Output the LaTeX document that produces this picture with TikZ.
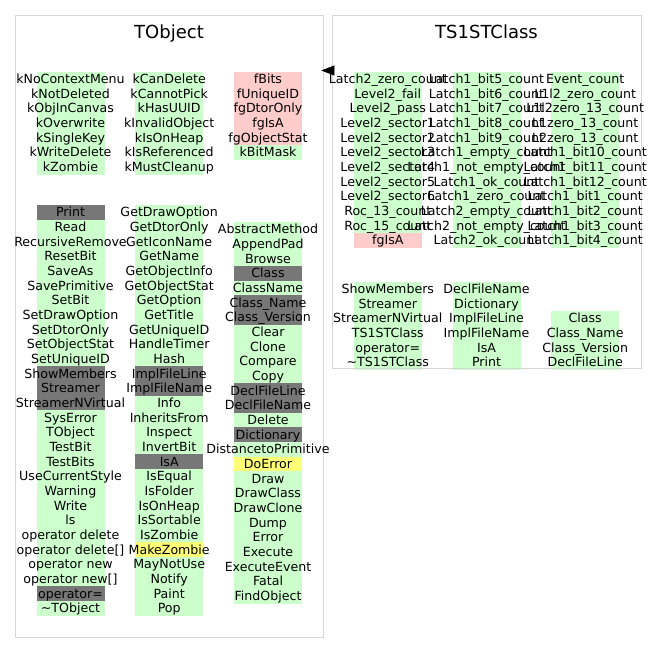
\documentclass[tikz,border=0pt]{standalone}
\usepackage{fontspec}
\setmainfont{DejaVu Sans}
\usetikzlibrary{arrows.meta}
\pgfdeclarelayer{background}
\pgfsetlayers{background,main}

\definecolor{mem}{HTML}{CCFFCC}
\definecolor{ovr}{HTML}{777777}
\definecolor{sta}{HTML}{FFCCCC}
\definecolor{vir}{HTML}{FFFF77}
\definecolor{boxgray}{HTML}{D6D6D6}

\tikzset{
  classbox/.style={draw=boxgray, line width=1.3pt, anchor=north west, inner sep=0pt},
  classtitle/.style={font=\fontsize{18}{20}\selectfont, anchor=base, inner sep=0pt},
  membertext/.style={font=\fontsize{12.6}{14}\selectfont, anchor=base, inner sep=0pt},
  inherit/.style={-{Triangle[length=13pt,width=10pt]}, line width=0.6pt}
}

\def\rowh{14.67}
% one column of members: name, x centre, top, list of text/colour
\newcommand{\membercol}[4]{%
  \foreach \txt/\kind [count=\i] in {#4} {
    \begin{pgfonlayer}{background}
      \fill[fill=\kind] (#2-34,#3+\i*\rowh-\rowh) rectangle ++(68,\rowh+0.3);
    \end{pgfonlayer}
    \node[membertext] (#1-\i) at (#2,#3+\i*\rowh-\rowh+11.7) {\txt};
  }%
}

\begin{document}
\begin{tikzpicture}[x=1pt,y=-1pt]
\useasboundingbox (0,0) rectangle (656,653);

% class boxes
\node[classbox, minimum width=308pt, minimum height=622pt] (tobj) at (15,15) {};
\node[classbox, minimum width=309pt, minimum height=353pt] (tsc) at (332,15) {};
\node[classtitle] (tobj-title) at (169,38.3) {TObject};
\node[classtitle] (tsc-title) at (486.5,38.3) {TS1STClass};

% inheritance
\coordinate (arrowy) at (0,70.5);
\draw[inherit, shorten >=-3pt] (tsc.west |- arrowy) -- (tobj.east |- arrowy);

% TObject data members
\membercol{tobjd1}{70.5}{71.7}{kNoContextMenu/mem, kNotDeleted/mem, kObjInCanvas/mem,
  kOverwrite/mem, kSingleKey/mem, kWriteDelete/mem, kZombie/mem}
\membercol{tobjd2}{169.2}{71.7}{kCanDelete/mem, kCannotPick/mem, kHasUUID/mem,
  kInvalidObject/mem, kIsOnHeap/mem, kIsReferenced/mem, kMustCleanup/mem}
\membercol{tobjd3}{268}{71.7}{fBits/sta, fUniqueID/sta, fgDtorOnly/sta, fgIsA/sta,
  fgObjectStat/sta, kBitMask/mem}

% TObject methods
\membercol{tobjm1}{70.5}{205}{Print/ovr, Read/mem, RecursiveRemove/mem, ResetBit/mem,
  SaveAs/mem, SavePrimitive/mem, SetBit/mem, SetDrawOption/mem, SetDtorOnly/mem,
  SetObjectStat/mem, SetUniqueID/mem, ShowMembers/ovr, Streamer/ovr,
  StreamerNVirtual/ovr, SysError/mem, TObject/mem, TestBit/mem, TestBits/mem,
  UseCurrentStyle/mem, Warning/mem, Write/mem, ls/mem, operator delete/mem,
  operator delete[]/mem, operator new/mem, operator new[]/mem, operator=/ovr,
  \textasciitilde TObject/mem}
\membercol{tobjm2}{169.2}{205}{GetDrawOption/mem, GetDtorOnly/mem, GetIconName/mem,
  GetName/mem, GetObjectInfo/mem, GetObjectStat/mem, GetOption/mem, GetTitle/mem,
  GetUniqueID/mem, HandleTimer/mem, Hash/mem, ImplFileLine/ovr, ImplFileName/ovr,
  Info/mem, InheritsFrom/mem, Inspect/mem, InvertBit/mem, IsA/ovr, IsEqual/mem,
  IsFolder/mem, IsOnHeap/mem, IsSortable/mem, IsZombie/mem, MakeZombie/vir,
  MayNotUse/mem, Notify/mem, Paint/mem, Pop/mem}
\membercol{tobjm3}{268}{222}{AbstractMethod/mem, AppendPad/mem, Browse/mem, Class/ovr,
  ClassName/mem, Class\_Name/ovr, Class\_Version/ovr, Clear/mem, Clone/mem,
  Compare/mem, Copy/mem, DeclFileLine/ovr, DeclFileName/ovr, Delete/mem,
  Dictionary/ovr, DistancetoPrimitive/mem, DoError/vir, Draw/mem, DrawClass/mem,
  DrawClone/mem, Dump/mem, Error/mem, Execute/mem, ExecuteEvent/mem, Fatal/mem,
  FindObject/mem}

% TS1STClass data members
\membercol{tscd1}{387.8}{71.7}{Latch2\_zero\_count/mem, Level2\_fail/mem,
  Level2\_pass/mem, Level2\_sector1/mem, Level2\_sector2/mem, Level2\_sector3/mem,
  Level2\_sector4/mem, Level2\_sector5/mem, Level2\_sector6/mem, Roc\_13\_count/mem,
  Roc\_15\_count/mem, fgIsA/sta}
\membercol{tscd2}{486.5}{71.7}{Latch1\_bit5\_count/mem, Latch1\_bit6\_count/mem,
  Latch1\_bit7\_count/mem, Latch1\_bit8\_count/mem, Latch1\_bit9\_count/mem,
  Latch1\_empty\_count/mem, Latch1\_not\_empty\_count/mem, Latch1\_ok\_count/mem,
  Latch1\_zero\_count/mem, Latch2\_empty\_count/mem, Latch2\_not\_empty\_count/mem,
  Latch2\_ok\_count/mem}
\membercol{tscd3}{585.2}{71.7}{Event\_count/mem, L1l2\_zero\_count/mem,
  L1l2zero\_13\_count/mem, L1zero\_13\_count/mem, L2zero\_13\_count/mem,
  Latch1\_bit10\_count/mem, Latch1\_bit11\_count/mem, Latch1\_bit12\_count/mem,
  Latch1\_bit1\_count/mem, Latch1\_bit2\_count/mem, Latch1\_bit3\_count/mem,
  Latch1\_bit4\_count/mem}

% TS1STClass methods
\membercol{tscm1}{387.8}{281.7}{ShowMembers/mem, Streamer/mem, StreamerNVirtual/mem,
  TS1STClass/mem, operator=/mem, \textasciitilde TS1STClass/mem}
\membercol{tscm2}{486.5}{281.7}{DeclFileName/mem, Dictionary/mem, ImplFileLine/mem,
  ImplFileName/mem, IsA/mem, Print/mem}
\membercol{tscm3}{585.2}{311}{Class/mem, Class\_Name/mem, Class\_Version/mem,
  DeclFileLine/mem}
\end{tikzpicture}
\end{document}
